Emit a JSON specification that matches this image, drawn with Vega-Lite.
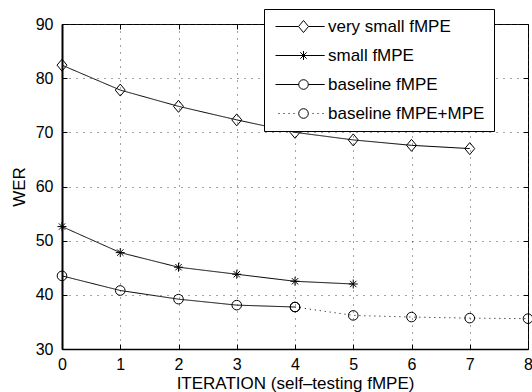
{
  "$schema": "https://vega.github.io/schema/vega-lite/v6.json",
  "width": 466,
  "height": 325,
  "autosize": {"type": "none"},
  "padding": {"left": 62, "top": 24, "right": 4, "bottom": 43},
  "background": "white",
  "config": {
    "view": {"stroke": "black", "strokeWidth": 1},
    "font": "Liberation Sans",
    "axis": {
      "labelFont": "Liberation Sans",
      "titleFont": "Liberation Sans",
      "labelColor": "black",
      "titleColor": "black",
      "labelFontSize": 16,
      "titleFontSize": 17,
      "titleFontWeight": "normal",
      "domainColor": "black",
      "tickColor": "black",
      "gridColor": "#333333",
      "gridDash": [1, 6],
      "gridOpacity": 0.9,
      "gridWidth": 1
    }
  },
  "data": {
    "values": [
      {"series": "very small fMPE", "iter": 0, "wer": 82.4},
      {"series": "very small fMPE", "iter": 1, "wer": 77.8},
      {"series": "very small fMPE", "iter": 2, "wer": 74.8},
      {"series": "very small fMPE", "iter": 3, "wer": 72.3},
      {"series": "very small fMPE", "iter": 4, "wer": 70.0},
      {"series": "very small fMPE", "iter": 5, "wer": 68.6},
      {"series": "very small fMPE", "iter": 6, "wer": 67.6},
      {"series": "very small fMPE", "iter": 7, "wer": 67.0},
      {"series": "small fMPE", "iter": 0, "wer": 52.6},
      {"series": "small fMPE", "iter": 1, "wer": 47.8},
      {"series": "small fMPE", "iter": 2, "wer": 45.1},
      {"series": "small fMPE", "iter": 3, "wer": 43.8},
      {"series": "small fMPE", "iter": 4, "wer": 42.5},
      {"series": "small fMPE", "iter": 5, "wer": 42.0},
      {"series": "baseline fMPE", "iter": 0, "wer": 43.5},
      {"series": "baseline fMPE", "iter": 1, "wer": 40.8},
      {"series": "baseline fMPE", "iter": 2, "wer": 39.2},
      {"series": "baseline fMPE", "iter": 3, "wer": 38.1},
      {"series": "baseline fMPE", "iter": 4, "wer": 37.75},
      {"series": "baseline fMPE+MPE", "iter": 4, "wer": 37.75},
      {"series": "baseline fMPE+MPE", "iter": 5, "wer": 36.2},
      {"series": "baseline fMPE+MPE", "iter": 6, "wer": 35.9},
      {"series": "baseline fMPE+MPE", "iter": 7, "wer": 35.7},
      {"series": "baseline fMPE+MPE", "iter": 8, "wer": 35.6}
    ]
  },
  "layer": [
    {
      "mark": {"type": "line", "stroke": "black", "strokeWidth": 1, "clip": true},
      "encoding": {
        "x": {
          "field": "iter", "type": "quantitative",
          "scale": {"domain": [0, 8], "nice": false},
          "axis": {
            "orient": "bottom", "values": [0, 1, 2, 3, 4, 5, 6, 7, 8], "grid": true,
            "tickSize": -5, "labelPadding": 12, "title": "ITERATION (self–testing fMPE)",
            "titlePadding": 3, "labelFlush": false, "domainWidth": 1.5
          }
        },
        "y": {
          "field": "wer", "type": "quantitative",
          "scale": {"domain": [30, 90], "nice": false, "zero": false},
          "axis": {
            "orient": "left", "values": [30, 40, 50, 60, 70, 80, 90], "grid": true,
            "tickSize": -5, "labelPadding": 14, "title": "WER", "titlePadding": 7,
            "labelFlush": false, "domainWidth": 2
          }
        },
        "detail": {"field": "series"},
        "strokeDash": {
          "field": "series", "type": "nominal",
          "scale": {
            "domain": ["very small fMPE", "small fMPE", "baseline fMPE", "baseline fMPE+MPE"],
            "range": [[1, 0], [1, 0], [1, 0], [1, 4]]
          },
          "legend": null
        }
      }
    },
    {
      "mark": {"type": "point", "filled": false, "stroke": "black", "strokeWidth": 1, "size": 144, "opacity": 1},
      "encoding": {
        "x": {
          "field": "iter", "type": "quantitative",
          "axis": {"orient": "top", "values": [0, 1, 2, 3, 4, 5, 6, 7, 8], "labels": false, "title": null, "grid": false, "domain": false, "tickSize": -5}
        },
        "y": {
          "field": "wer", "type": "quantitative",
          "axis": {"orient": "right", "values": [30, 40, 50, 60, 70, 80, 90], "labels": false, "title": null, "grid": false, "domain": false, "tickSize": -5}
        },
        "shape": {
          "field": "series", "type": "nominal",
          "scale": {
            "domain": ["very small fMPE", "small fMPE", "baseline fMPE", "baseline fMPE+MPE"],
            "range": [
              "M0,-1L0.83,0L0,1L-0.83,0Z",
              "M0,-0.75V0.75M-0.75,0H0.75M-0.53,-0.53L0.53,0.53M-0.53,0.53L0.53,-0.53",
              "M0.8,0A0.8,0.8 0 1,1 -0.8,0A0.8,0.8 0 1,1 0.8,0Z",
              "M0.8,0A0.8,0.8 0 1,1 -0.8,0A0.8,0.8 0 1,1 0.8,0Z"
            ]
          },
          "legend": null
        }
      }
    },
    {
      "mark": {"type": "point", "filled": false, "stroke": "black", "strokeWidth": 1, "size": 144, "opacity": 0},
      "encoding": {
        "x": {"field": "iter", "type": "quantitative", "axis": null},
        "y": {"field": "wer", "type": "quantitative", "axis": null},
        "shape": {
          "field": "series", "type": "nominal",
          "scale": {
            "domain": ["very small fMPE", "small fMPE", "baseline fMPE", "baseline fMPE+MPE"],
            "range": [
              "M-1,0H2.84M3.67,-1L4.5,0L3.67,1L2.84,0ZM4.5,0H7.2",
              "M-1,0H7.2M3.67,-0.75V0.75M2.92,0H4.42M3.14,-0.53L4.2,0.53M3.14,0.53L4.2,-0.53",
              "M-1,0H2.87M4.47,0A0.8,0.8 0 1,1 2.87,0A0.8,0.8 0 1,1 4.47,0ZM4.47,0H7.2",
              "M-0.5,0h0.17M0.33,0h0.17M1.17,0h0.17M2,0h0.17M4.47,0A0.8,0.8 0 1,1 2.87,0A0.8,0.8 0 1,1 4.47,0ZM5.17,0h0.17M6,0h0.17M6.83,0h0.17"
            ]
          },
          "legend": {
            "orient": "none", "legendX": 202, "legendY": -15, "title": null,
            "padding": 9, "strokeColor": "black", "fillColor": "white", "cornerRadius": 0,
            "labelFont": "Liberation Sans", "labelFontSize": 17, "labelColor": "black",
            "symbolSize": 144, "symbolStrokeColor": "black", "symbolStrokeWidth": 1,
            "symbolOpacity": 1, "symbolFillColor": "transparent",
            "labelOffset": 38, "rowPadding": 11, "labelLimit": 300
          }
        }
      }
    }
  ],
  "resolve": {
    "scale": {"shape": "independent"},
    "axis": {"x": "independent", "y": "independent"}
  }
}
